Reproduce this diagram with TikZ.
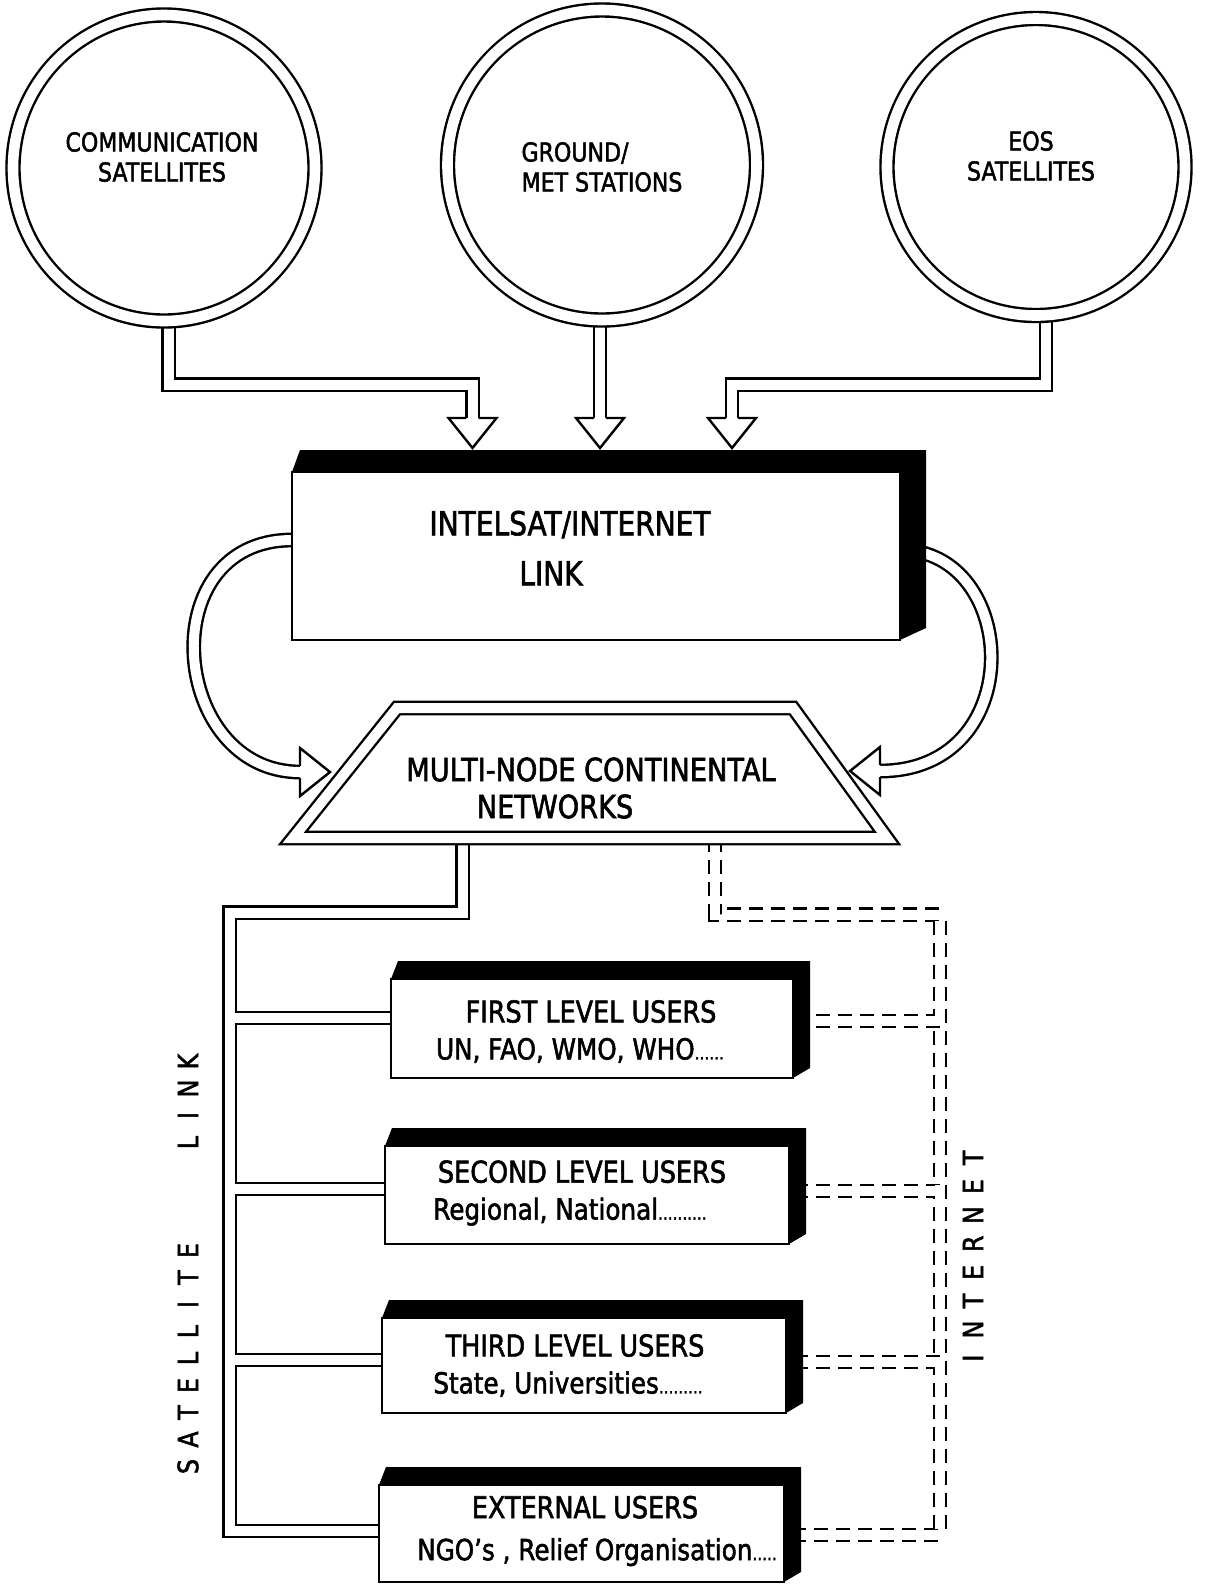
\documentclass[tikz,border=0pt]{standalone}
\usepackage{fontspec}
\setmainfont{DejaVu Sans}[FakeStretch=0.85, FakeBold=1.8]
\usetikzlibrary{shapes.geometric}
\pgfdeclarelayer{back}
\pgfdeclarelayer{mid}
\pgfsetlayers{back,mid,main}
\newcommand\ltrS[1]{\makebox[13.5pt]{#1}}
\newcommand\ltrI[1]{\makebox[14.3pt]{#1}}
\newcommand\dts[1]{{\fontsize{9}{9}\selectfont #1}}
\tikzset{
 ring/.style={ellipse, draw, line width=1.2pt, double, double distance=5.3pt, fill=white, inner sep=0pt, outer sep=0pt},
 dblline/.style={draw, line width=1.2pt, double, double distance=5pt, line join=miter},
 dashline/.style={dblline, dash pattern=on 7pt off 4pt},
 front/.style={rectangle, draw, line width=1.3pt, fill=white, inner sep=0pt, outer sep=0pt},
 headp/.pic={\draw[line width=1.2pt, fill=white, line join=miter] (-6.2,-30) -- (-24,-30) -- (0,0) -- (24,-30) -- (6.2,-30);},
 circtext/.style={align=center, inner sep=0pt, font=\fontsize{13}{15}\selectfont},
 boxtext/.style={align=center, inner sep=0pt, font=\fontsize{16.5}{25}\selectfont},
 traptext/.style={align=center, inner sep=0pt, font=\fontsize{16}{18.5}\selectfont},
 usertext/.style={align=center, inner sep=0pt, font=\fontsize{15}{18.5}\selectfont},
 verttext/.style={rotate=90, inner sep=0pt, font=\fontsize{14}{16}\selectfont},
}
\begin{document}
\begin{tikzpicture}[x=0.5pt, y=-0.5pt]
\useasboundingbox (0,0) rectangle (1208,1587);

% source circles
\node[ring, minimum width=151pt, minimum height=153pt] (c1) at (164,168) {};
\node[ring, minimum width=154.5pt, minimum height=155pt] (c2) at (602,165) {};
\node[ring, minimum width=149pt, minimum height=148.5pt] (c3) at (1036,167) {};
\node[circtext] (c1t) at (162,157) {COMMUNICATION\\SATELLITES};
\node[circtext] (c2t) at (602,167) {GROUND/\hspace{27pt}\mbox{}\\MET STATIONS};
\node[circtext] (c3t) at (1031,156) {EOS\\SATELLITES};

% INTELSAT box
\node[front, minimum width=304pt, minimum height=84pt] (ib) at (596,556) {};
\node[boxtext] (ibt) at (570,548) {INTELSAT/INTERNET\\LINK\hspace{19pt}\mbox{}};

% trapezoid
\draw[dblline, fill=white] (397,708) -- (793,708) -- (887,838) -- (293,838) -- cycle;
\node[traptext] (mt) at (591,788) {MULTI-NODE CONTINENTAL\\NETWORKS\hspace{36pt}\mbox{}};

% user boxes
\node[front, minimum width=201pt, minimum height=49.5pt] (u1) at (592,1028.5) {};
\node[front, minimum width=202pt, minimum height=49pt] (u2) at (587,1195) {};
\node[front, minimum width=202pt, minimum height=47.5pt] (u3) at (584,1365.5) {};
\node[front, minimum width=202.5pt, minimum height=48.5pt] (u4) at (581.5,1533.5) {};
\node[usertext] (u1t) at (591,1031.5) {FIRST LEVEL USERS\\{\fontsize{14.5}{18.5}\selectfont UN, FAO, WMO, WHO\dts{......}}\hspace{11pt}\mbox{}};
\node[usertext] (u2t) at (582,1193) {SECOND LEVEL USERS\\{\fontsize{14.5}{18.5}\selectfont Regional, National\dts{..........}}\hspace{12pt}\mbox{}};
\node[usertext] (u3t) at (575,1365.5) {THIRD LEVEL USERS\\{\fontsize{14.5}{18.5}\selectfont State, Universities\dts{.........}}\hspace{7pt}\mbox{}};
\node[usertext, font=\fontsize{15}{21}\selectfont] (u4t) at (585,1531) {EXTERNAL USERS\\\hspace*{12pt}{\fontsize{14.5}{21}\selectfont NGO's , Relief Organisation\dts{.....}}};

% vertical labels
\node[verttext] (sl) at (188,1264) {\ltrS{S}\ltrS{A}\ltrS{T}\ltrS{E}\ltrS{L}\ltrS{L}\ltrS{I}\ltrS{T}\ltrS{E}\ltrS{}\ltrS{}\ltrS{}\ltrS{L}\ltrS{I}\ltrS{N}\ltrS{K}};
\node[verttext] (inet) at (973,1258) {\ltrI{I}\ltrI{N}\ltrI{T}\ltrI{E}\ltrI{R}\ltrI{N}\ltrI{E}\ltrI{T}};

% coordinates
\coordinate (k1) at (168.5,384.5);
\coordinate (b1) at (472.5,418);
\coordinate (b2) at (600,418);
\coordinate (k3) at (1046,384.5);
\coordinate (b3) at (732,418);
\coordinate (lb) at (300,772);
\coordinate (rb) at (880,771);
\coordinate (tl) at (462.5,838);
\coordinate (tr) at (715,838);

% arrowheads
\pic at (472.5,448) {headp};
\pic at (600,448) {headp};
\pic at (732,448) {headp};
\pic[rotate=90] at (330,772) {headp};
\pic[rotate=-90] at (850,771) {headp};

% 3D bands
\begin{pgfonlayer}{mid}
\fill (ib.north west) -- ++(8,-22) -- ([shift={(26,-22)}]ib.north east) -- ([shift={(26,-12)}]ib.south east) -- (ib.south east) -- cycle;
\foreach \u in {u1,u2,u3,u4}
  \fill (\u.north west) -- ++(7,-18) -- ([shift={(17,-18)}]\u.north east) -- ([shift={(17,-10)}]\u.south east) -- (\u.south east) -- cycle;
\end{pgfonlayer}

% connectors
\begin{pgfonlayer}{back}
\fill[white] (0,0) rectangle (1208,1587);
\draw[dblline] (c1.center -| k1) -- (k1) -| (b1);
\draw[dblline] (c2.center -| b2) -- (b2);
\draw[dblline] (c3.center -| k3) -- (k3) -| (b3);
\draw[dblline] ([yshift=8pt]ib.west) .. controls (150,540) and (170,772) .. (lb);
\draw[dblline] ([yshift=3pt]ib.east) .. controls (1020,550) and (1030,771) .. (rb);
\draw[dblline] (tl) -- (462.5,912.5) -- (229.5,912.5) -- (229.5,1531) -- (u4.west |- 0,1531)
   (229.5,1018) -- (u1.west |- 0,1018)
   (229.5,1189) -- (u2.west |- 0,1189)
   (229.5,1360) -- (u3.west |- 0,1360);
\draw[dashline] (tr) -- (715,914.5) -- (940,914.5) -- (940,1535) -- (u4.east |- 0,1535)
   (940,1021) -- (u1.east |- 0,1021)
   (940,1191) -- (u2.east |- 0,1191)
   (940,1362) -- (u3.east |- 0,1362);
\end{pgfonlayer}
\end{tikzpicture}
\end{document}
